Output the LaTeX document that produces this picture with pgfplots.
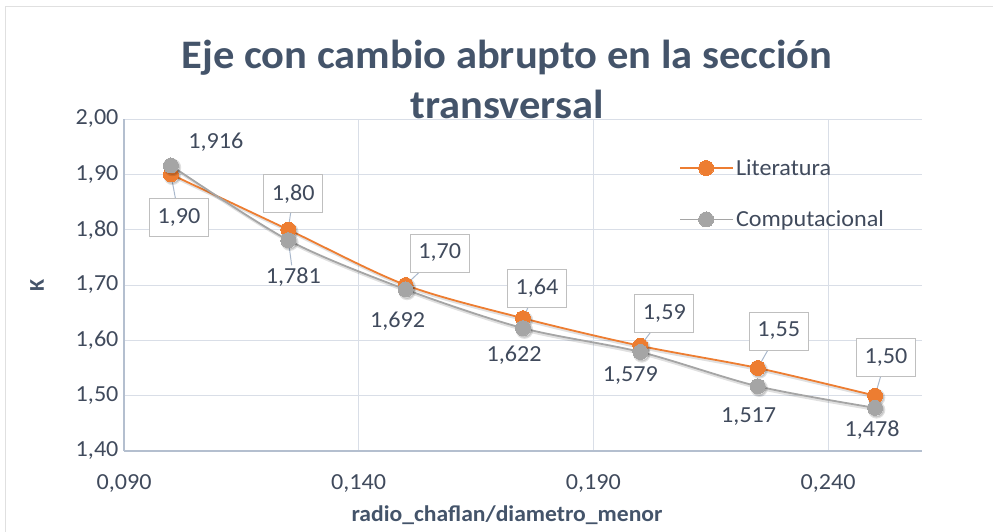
\documentclass[border=0pt]{standalone}
\usepackage{pgfplots}
\pgfplotsset{compat=1.18}
\usepackage{fontspec}
\setmainfont{Carlito}[FakeStretch=1.05]
\definecolor{lit}{HTML}{ED7D31}
\definecolor{comp}{HTML}{A5A5A5}
\definecolor{titlec}{HTML}{44546A}
\definecolor{tickc}{HTML}{404A5C}
\definecolor{gridc}{HTML}{D9DEE7}
\definecolor{axisc}{HTML}{B4BFCF}
\definecolor{leadc}{HTML}{A9B8CC}
\definecolor{boxc}{HTML}{BFBFBF}
\begin{document}
\begin{tikzpicture}
\useasboundingbox (0pt,0pt) rectangle (993pt,531pt);
\draw[color=black!12, line width=1pt] (5pt,-5pt) -- (5pt,524pt) -- (1000pt,524pt);
\begin{axis}[
  at={(124pt,80pt)}, anchor=south west,
  scale only axis, width=798pt, height=332pt,
  xmin=0.09, xmax=0.26, ymin=1.4, ymax=2.0,
  xtick={0.09,0.14,0.19,0.24},
  ytick={1.4,1.5,1.6,1.7,1.8,1.9,2.0},
  axis x line*=bottom, axis y line*=left,
  axis line style={draw=axisc, line width=1.3pt, -},
  major tick length=0pt,
  grid=major, major grid style={draw=gridc, line width=1pt},
  clip=false,
  /pgf/number format/assume math mode=true,
  xticklabel style={/pgf/number format/fixed, /pgf/number format/fixed zerofill,
    /pgf/number format/precision=3, /pgf/number format/use comma,
    anchor=base, yshift=-38pt},
  yticklabel style={/pgf/number format/fixed, /pgf/number format/fixed zerofill,
    /pgf/number format/precision=2, /pgf/number format/use comma,
    anchor=east, xshift=-2pt},
  ticklabel style={font=\fontsize{23}{23}\selectfont, text=tickc},
  title={Eje con cambio abrupto en la sección\\transversal},
  title style={at={(axis description cs:0.48,1.102)}, anchor=center, align=center,
    font=\fontsize{40.5}{50}\selectfont\bfseries, text=titlec},
  xlabel={radio\_chaflan/diametro\_menor},
  xlabel style={at={(axis description cs:0.48,-0.193)}, anchor=center,
    font=\fontsize{22.5}{22.5}\selectfont\bfseries, text=titlec},
  ylabel={K},
  ylabel style={at={(axis description cs:-0.109,0.5)}, anchor=center,
    font=\fontsize{21}{21}\selectfont\bfseries, text=titlec},
  legend style={at={(0.6955,0.885)}, anchor=north west, draw=none, fill=none,
    font=\fontsize{23}{23}\selectfont, text=tickc, row sep=30pt, inner sep=0pt},
  legend cell align=left,
  legend image code/.code={\draw[mark repeat=2, mark phase=2, #1] plot coordinates {(0pt,0pt) (26pt,0pt) (53pt,0pt)};},
]
% soft shadows
\addplot[forget plot, color=black, opacity=0.12, line width=2.5pt, smooth, tension=0.5, mark=*, mark size=7.5pt,
  mark options={fill=black, draw=none}, xshift=1.5pt, yshift=-2pt]
  coordinates {(0.100,1.90) (0.125,1.80) (0.150,1.70) (0.175,1.64) (0.200,1.59) (0.225,1.55) (0.250,1.50)};
\addplot[color=lit, line width=1.8pt, smooth, tension=0.5, mark=*, mark size=7.5pt,
  mark options={fill=lit, draw=lit, line width=0pt}]
  coordinates {(0.100,1.90) (0.125,1.80) (0.150,1.70) (0.175,1.64) (0.200,1.59) (0.225,1.55) (0.250,1.50)};
\addlegendentry{Literatura}
\addplot[forget plot, color=black, opacity=0.12, line width=2.5pt, smooth, tension=0.5, mark=*, mark size=7.5pt,
  mark options={fill=black, draw=none}, xshift=1.5pt, yshift=-2pt]
  coordinates {(0.100,1.916) (0.125,1.781) (0.150,1.692) (0.175,1.622) (0.200,1.579) (0.225,1.517) (0.250,1.478)};
\addplot[color=comp, line width=1.8pt, smooth, tension=0.5, mark=*, mark size=7.5pt,
  mark options={fill=comp, draw=comp, line width=0pt}]
  coordinates {(0.100,1.916) (0.125,1.781) (0.150,1.692) (0.175,1.622) (0.200,1.579) (0.225,1.517) (0.250,1.478)};
\addlegendentry{Computacional}

\tikzset{lead/.style={draw=leadc, line width=1pt, shorten <=5pt},
  lbox/.style={draw=boxc, fill=white, line width=1pt, minimum width=59pt, minimum height=38pt, inner sep=0pt,
    font=\fontsize{23}{23}\selectfont, text=tickc},
  ltxt/.style={inner sep=0pt, font=\fontsize{23}{23}\selectfont, text=tickc}}
\draw[lead] (axis cs:0.100,1.90) -- ++(8pt,-43pt);
\draw[lead] (axis cs:0.125,1.80) -- ++(5pt,36pt);
\draw[lead] (axis cs:0.150,1.70) -- ++(34pt,32pt);
\draw[lead] (axis cs:0.175,1.64) -- ++(14pt,30pt);
\draw[lead] (axis cs:0.200,1.59) -- ++(24pt,32pt);
\draw[lead] (axis cs:0.225,1.55) -- ++(21pt,37pt);
\draw[lead] (axis cs:0.250,1.50) -- ++(11pt,38pt);
\draw[lead, shorten >=12pt] (axis cs:0.125,1.781) -- ++(5pt,-37pt);

\node[lbox] at ([shift={(8pt,-43pt)}]axis cs:0.100,1.90) {1,90};
\node[lbox] at ([shift={(5pt,36pt)}]axis cs:0.125,1.80) {1,80};
\node[lbox] at ([shift={(34pt,32pt)}]axis cs:0.150,1.70) {1,70};
\node[lbox] at ([shift={(14pt,30pt)}]axis cs:0.175,1.64) {1,64};
\node[lbox] at ([shift={(24pt,32pt)}]axis cs:0.200,1.59) {1,59};
\node[lbox] at ([shift={(21pt,37pt)}]axis cs:0.225,1.55) {1,55};
\node[lbox] at ([shift={(11pt,38pt)}]axis cs:0.250,1.50) {1,50};

\node[ltxt] at ([shift={(45pt,23pt)}]axis cs:0.100,1.916) {1,916};
\node[ltxt] at ([shift={(5pt,-37pt)}]axis cs:0.125,1.781) {1,781};
\node[ltxt] at ([shift={(-8pt,-32pt)}]axis cs:0.150,1.692) {1,692};
\node[ltxt] at ([shift={(-9pt,-27pt)}]axis cs:0.175,1.622) {1,622};
\node[ltxt] at ([shift={(-10pt,-24pt)}]axis cs:0.200,1.579) {1,579};
\node[ltxt] at ([shift={(-9pt,-30pt)}]axis cs:0.225,1.517) {1,517};
\node[ltxt] at ([shift={(-3pt,-22pt)}]axis cs:0.250,1.478) {1,478};
\end{axis}
\end{tikzpicture}
\end{document}
